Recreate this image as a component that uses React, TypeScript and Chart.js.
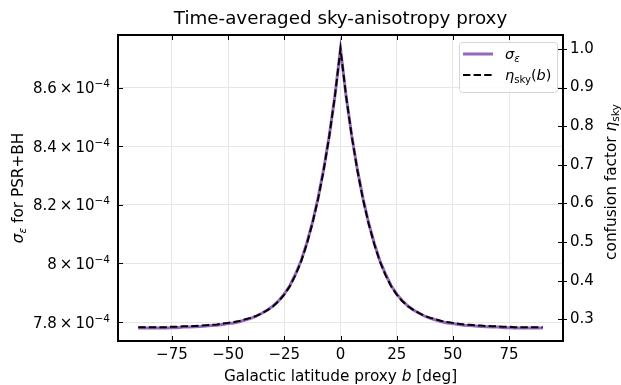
import React, { useEffect, useRef } from 'react';
import { Chart, registerables } from 'chart.js';

Chart.register(...registerables);

// Galactic latitude proxy b [deg]
const B = [
  -90, -87.5, -85, -82.5, -80, -77.5, -75, -72.5, -70, -67.5, -65, -62.5, -60, -57.5, -55, -52.5,
  -50, -47.5, -45, -42.5, -40, -37.5, -35, -32.5, -30, -27.5, -25, -22.5, -20, -17.5, -15, -12.5,
  -10, -7.5, -5, -2.5, 0, 2.5, 5, 7.5, 10, 12.5, 15, 17.5, 20, 22.5, 25, 27.5, 30, 32.5, 35, 37.5,
  40, 42.5, 45, 47.5, 50, 52.5, 55, 57.5, 60, 62.5, 65, 67.5, 70, 72.5, 75, 77.5, 80, 82.5, 85, 87.5, 90,
];

// sigma_epsilon for PSR+BH (left axis)
const SIGMA = [
  7.780e-4, 7.780e-4, 7.780e-4, 7.780e-4, 7.780e-4, 7.780e-4, 7.781e-4, 7.781e-4, 7.783e-4, 7.783e-4,
  7.784e-4, 7.785e-4, 7.787e-4, 7.788e-4, 7.789e-4, 7.792e-4, 7.795e-4, 7.797e-4, 7.801e-4, 7.807e-4,
  7.813e-4, 7.820e-4, 7.830e-4, 7.841e-4, 7.855e-4, 7.873e-4, 7.896e-4, 7.925e-4, 7.964e-4, 8.010e-4,
  8.069e-4, 8.139e-4, 8.222e-4, 8.321e-4, 8.436e-4, 8.571e-4,
  8.732e-4,
  8.571e-4, 8.436e-4, 8.321e-4, 8.222e-4, 8.139e-4, 8.069e-4, 8.010e-4, 7.964e-4, 7.925e-4, 7.896e-4,
  7.873e-4, 7.855e-4, 7.841e-4, 7.830e-4, 7.820e-4, 7.813e-4, 7.807e-4, 7.801e-4, 7.797e-4, 7.795e-4,
  7.792e-4, 7.789e-4, 7.788e-4, 7.787e-4, 7.785e-4, 7.784e-4, 7.783e-4, 7.783e-4, 7.781e-4, 7.781e-4,
  7.780e-4, 7.780e-4, 7.780e-4, 7.780e-4, 7.780e-4, 7.780e-4,
];

// confusion factor eta_sky(b) (right axis)
const ETA = [
  0.280, 0.280, 0.280, 0.280, 0.280, 0.280, 0.281, 0.281, 0.282, 0.282, 0.283, 0.284, 0.285, 0.286,
  0.287, 0.289, 0.291, 0.293, 0.296, 0.300, 0.304, 0.309, 0.316, 0.324, 0.334, 0.347, 0.364, 0.386,
  0.415, 0.450, 0.495, 0.548, 0.611, 0.686, 0.774, 0.877,
  1.000,
  0.877, 0.774, 0.686, 0.611, 0.548, 0.495, 0.450, 0.415, 0.386, 0.364, 0.347, 0.334, 0.324, 0.316,
  0.309, 0.304, 0.300, 0.296, 0.293, 0.291, 0.289, 0.287, 0.286, 0.285, 0.284, 0.283, 0.282, 0.282,
  0.281, 0.281, 0.280, 0.280, 0.280, 0.280, 0.280, 0.280,
];

const X_TICKS = [-75, -50, -25, 0, 25, 50, 75];
const SIGMA_TICKS = [7.8e-4, 8.0e-4, 8.2e-4, 8.4e-4, 8.6e-4];
const SIGMA_TICK_MANTISSA = ['7.8', '8', '8.2', '8.4', '8.6'];
const SIGMA_TICK_EXPONENT = '\u22124';
const ETA_TICKS = [0.3, 0.4, 0.5, 0.6, 0.7, 0.8, 0.9, 1.0];

const X_MIN = -99;
const X_MAX = 99;
const SIGMA_MIN = 7.7355e-4;
const SIGMA_MAX = 8.7795e-4;
const ETA_MIN = 0.2441;
const ETA_MAX = 1.0359;

const TITLE = 'Time-averaged sky-anisotropy proxy';
const PURPLE = '#9467bd';
const FONT = '"DejaVu Sans"';
const TICK_SIZE = 15;
const LABEL_SIZE = 15.3;
const TITLE_SIZE = 18.3;
const LEGEND_SIZE = 14.5;

type Part = { t: string; italic?: boolean; scale?: number; dy?: number };

function drawRich(
  ctx: CanvasRenderingContext2D,
  parts: Part[],
  size: number,
  x: number,
  y: number,
  rot: number,
  align: 'left' | 'center' | 'right',
  baselineOffset: number,
) {
  ctx.save();
  ctx.translate(x, y);
  ctx.rotate(rot);
  ctx.textAlign = 'left';
  ctx.textBaseline = 'alphabetic';
  ctx.fillStyle = '#000';
  const fontOf = (p: Part) => `${p.italic ? 'italic ' : ''}${size * (p.scale || 1)}px ${FONT}`;
  const widths: number[] = [];
  let total = 0;
  for (const p of parts) {
    ctx.font = fontOf(p);
    const w = ctx.measureText(p.t).width;
    widths.push(w);
    total += w;
  }
  let cx = align === 'center' ? -total / 2 : align === 'right' ? -total : 0;
  parts.forEach((p, i) => {
    ctx.font = fontOf(p);
    ctx.fillText(p.t, cx, baselineOffset + (p.dy || 0));
    cx += widths[i];
  });
  ctx.restore();
}

const decorPlugin = {
  id: 'decor',
  afterDraw(chart: any) {
    const ctx: CanvasRenderingContext2D = chart.ctx;
    const a = chart.chartArea;
    const xs = chart.scales.x;
    const ys = chart.scales.y;
    const y1 = chart.scales.y1;
    ctx.save();

    // ticks
    ctx.strokeStyle = '#000';
    ctx.lineWidth = 1;
    ctx.beginPath();
    for (const v of X_TICKS) {
      const px = Math.round(xs.getPixelForValue(v)) + 0.5;
      ctx.moveTo(px, a.bottom);
      ctx.lineTo(px, a.bottom - 5);
      ctx.moveTo(px, a.top);
      ctx.lineTo(px, a.top + 5);
    }
    for (const v of SIGMA_TICKS) {
      const py = Math.round(ys.getPixelForValue(v)) + 0.5;
      ctx.moveTo(a.left, py);
      ctx.lineTo(a.left + 5, py);
    }
    for (const v of ETA_TICKS) {
      const py = Math.round(y1.getPixelForValue(v)) + 0.5;
      ctx.moveTo(a.right - 5, py);
      ctx.lineTo(a.right + 4, py);
    }
    ctx.stroke();

    // spines
    ctx.lineWidth = 2;
    ctx.strokeRect(a.left, a.top, a.right - a.left, a.bottom - a.top);

    // left tick labels  (mantissa × 10^-4)
    SIGMA_TICKS.forEach((v, i) => {
      const py = ys.getPixelForValue(v);
      drawRich(
        ctx,
        [
          { t: SIGMA_TICK_MANTISSA[i] },
          { t: '\u2009\u00d7\u2009' },
          { t: '10' },
          { t: SIGMA_TICK_EXPONENT, scale: 0.7, dy: -6 },
        ],
        TICK_SIZE,
        a.left - 8,
        py,
        0,
        'right',
        5.5,
      );
    });

    // title
    drawRich(ctx, [{ t: TITLE }], TITLE_SIZE, (a.left + a.right) / 2, 24, 0, 'center', 0);

    // x label
    drawRich(
      ctx,
      [{ t: 'Galactic latitude proxy ' }, { t: 'b', italic: true }, { t: ' [deg]' }],
      LABEL_SIZE,
      (a.left + a.right) / 2,
      381,
      0,
      'center',
      0,
    );

    // left y label
    drawRich(
      ctx,
      [
        { t: '\u03c3', italic: true },
        { t: '\u03b5', italic: true, scale: 0.7, dy: 3 },
        { t: ' for PSR+BH' },
      ],
      LABEL_SIZE,
      17,
      (a.top + a.bottom) / 2,
      -Math.PI / 2,
      'center',
      5.5,
    );

    // right y label
    drawRich(
      ctx,
      [
        { t: 'confusion factor ' },
        { t: '\u03b7', italic: true },
        { t: 'sky', scale: 0.7, dy: 3 },
      ],
      LABEL_SIZE,
      610,
      (a.top + a.bottom) / 2 - 6,
      -Math.PI / 2,
      'center',
      5.5,
    );

    // legend
    const lx = 459;
    const ly = 42;
    const lw = 98;
    const lh = 50;
    ctx.beginPath();
    ctx.roundRect(lx + 0.5, ly + 0.5, lw, lh, 3);
    ctx.fillStyle = 'rgba(255,255,255,0.85)';
    ctx.fill();
    ctx.strokeStyle = '#d6d6d6';
    ctx.lineWidth = 1;
    ctx.stroke();

    ctx.strokeStyle = PURPLE;
    ctx.lineWidth = 3;
    ctx.beginPath();
    ctx.moveTo(463, 54);
    ctx.lineTo(493, 54);
    ctx.stroke();

    ctx.strokeStyle = '#000';
    ctx.lineWidth = 2;
    ctx.setLineDash([7.4, 3.2]);
    ctx.beginPath();
    ctx.moveTo(463, 75);
    ctx.lineTo(493, 75);
    ctx.stroke();
    ctx.setLineDash([]);

    drawRich(
      ctx,
      [
        { t: '\u03c3', italic: true },
        { t: '\u03b5', italic: true, scale: 0.7, dy: 3 },
      ],
      LEGEND_SIZE,
      505,
      54,
      0,
      'left',
      5,
    );
    drawRich(
      ctx,
      [
        { t: '\u03b7', italic: true },
        { t: 'sky', scale: 0.7, dy: 3 },
        { t: '(' },
        { t: 'b', italic: true },
        { t: ')' },
      ],
      LEGEND_SIZE,
      505,
      75,
      0,
      'left',
      5,
    );

    ctx.restore();
  },
};

export default function App() {
  const ref = useRef<HTMLCanvasElement | null>(null);

  useEffect(() => {
    document.body.style.margin = '0';
    const canvas = ref.current;
    if (!canvas) return;
    const sigmaData = B.map((b, i) => ({ x: b, y: SIGMA[i] }));
    const etaData = B.map((b, i) => ({ x: b, y: ETA[i] }));

    const chart = new Chart(canvas, {
      type: 'line',
      data: {
        datasets: [
          {
            label: 'sigma',
            data: sigmaData,
            yAxisID: 'y',
            borderColor: PURPLE,
            borderWidth: 3,
            pointRadius: 0,
            tension: 0,
            fill: false,
            order: 1,
          },
          {
            label: 'eta',
            data: etaData,
            yAxisID: 'y1',
            borderColor: '#000',
            borderWidth: 2,
            borderDash: [7.4, 3.2],
            pointRadius: 0,
            tension: 0,
            fill: false,
            order: 0,
          },
        ],
      },
      options: {
        animation: false,
        responsive: false,
        devicePixelRatio: 1,
        parsing: false,
        normalized: true,
        layout: { padding: { top: 35, left: 0, right: 0, bottom: 0 } },
        plugins: {
          legend: { display: false },
          title: { display: false },
          tooltip: { enabled: false },
        },
        scales: {
          x: {
            type: 'linear',
            min: X_MIN,
            max: X_MAX,
            afterBuildTicks: (s: any) => {
              s.ticks = X_TICKS.map((v) => ({ value: v }));
            },
            afterFit: (s: any) => {
              s.height = 44;
            },
            border: { display: false },
            grid: { color: '#e6e6e6', lineWidth: 1, drawTicks: false },
            ticks: {
              padding: 5,
              color: '#000',
              font: { family: FONT, size: TICK_SIZE },
              maxRotation: 0,
              autoSkip: false,
              callback: (v: any) => (v < 0 ? '\u2212' + Math.abs(v) : String(v)),
            },
          },
          y: {
            type: 'linear',
            position: 'left',
            min: SIGMA_MIN,
            max: SIGMA_MAX,
            afterBuildTicks: (s: any) => {
              s.ticks = SIGMA_TICKS.map((v) => ({ value: v }));
            },
            afterFit: (s: any) => {
              s.width = 118;
            },
            border: { display: false },
            grid: { color: '#e6e6e6', lineWidth: 1, drawTicks: false },
            ticks: { display: false },
          },
          y1: {
            type: 'linear',
            position: 'right',
            min: ETA_MIN,
            max: ETA_MAX,
            afterBuildTicks: (s: any) => {
              s.ticks = ETA_TICKS.map((v) => ({ value: v }));
            },
            afterFit: (s: any) => {
              s.width = 58;
            },
            border: { display: false },
            grid: { display: false, drawTicks: false },
            ticks: {
              padding: 7,
              color: '#000',
              font: { family: FONT, size: TICK_SIZE },
              autoSkip: false,
              callback: (v: any) => Number(v).toFixed(1),
            },
          },
        },
      },
      plugins: [decorPlugin],
    });
    return () => chart.destroy();
  }, []);

  return (
    <div style={{ position: 'absolute', left: 0, top: 0, width: 621, height: 385, background: '#fff' }}>
      <canvas ref={ref} width={621} height={385} style={{ display: 'block' }} />
    </div>
  );
}
